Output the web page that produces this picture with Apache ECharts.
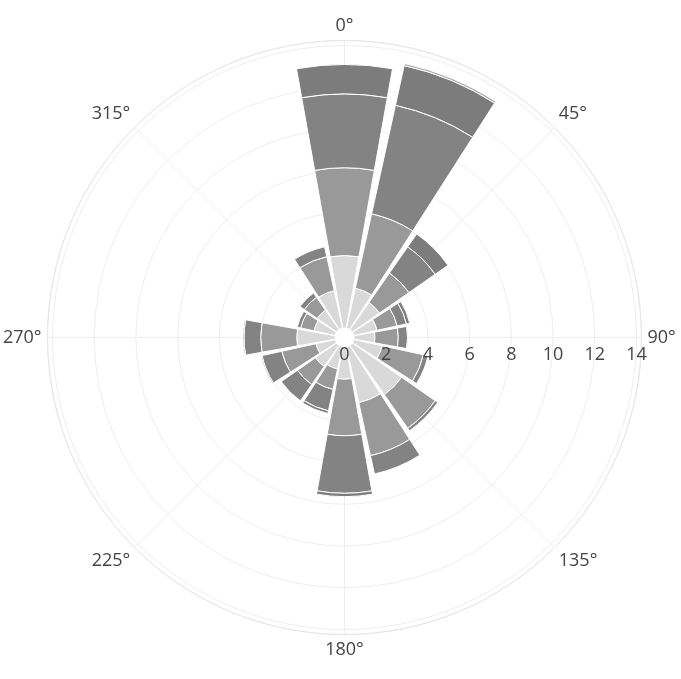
<!DOCTYPE html>
<html>
<head>
<meta charset="utf-8">
<script src="https://cdn.jsdelivr.net/npm/echarts@6/dist/echarts.min.js"></script>
<style>html,body{margin:0;padding:0;background:#fff;}#c{width:681px;height:679px;}</style>
</head>
<body>
<div id="c"></div>
<script>
var directions = ['N','NNE','NE','ENE','E','ESE','SE','SSE','S','SSW','SW','WSW','W','WNW','NW','NNW'];
var band1 = [3.93, 2.42, 2.05, 1.60, 1.46, 1.85, 3.34, 3.20, 2.00, 1.55, 1.70, 1.40, 2.29, 1.50, 1.60, 2.30];
var band2 = [4.21, 3.65, 1.72, 0.98, 1.12, 2.02, 1.96, 2.60, 2.71, 1.00, 1.05, 1.68, 1.73, 0.65, 0.75, 1.67];
var band3 = [3.54, 5.33, 1.53, 0.46, 0.44, 0.23, 0.15, 0.90, 2.76, 1.05, 0.95, 0.97, 0.80, 0.17, 0.25, 0.48];
var band4 = [1.41, 1.95, 0.75, 0.16, 0.00, 0.00, 0.00, 0.00, 0.16, 0.13, 0.00, 0.05, 0.05, 0.00, 0.00, 0.00];
var band5 = [0.00, 0.10, 0.00, 0.00, 0.00, 0.00, 0.00, 0.00, 0.00, 0.00, 0.00, 0.00, 0.00, 0.00, 0.00, 0.00];
var bandNames = ['b1','b2','b3','b4','b5'];
var radialTicks = [0, 2, 4, 6, 8, 10, 12, 14];

var colors = ['#d9d9d9', '#999999', '#838383', '#7c7c7c', '#a8a8a8'];
var bands = [band1, band2, band3, band4, band5];
var RMAX = 14.24;
var CX = 344.5, CY = 337.5, R = 297;

var series = bands.map(function (b, i) {
  return {
    name: bandNames[i],
    type: 'bar',
    coordinateSystem: 'polar',
    polarIndex: 0,
    stack: 'wind',
    barCategoryGap: '10%',
    data: b.map(function (v) { return v === 0 ? '-' : v; }),
    itemStyle: { color: colors[i], borderColor: '#ffffff', borderWidth: 1 },
    emphasis: { disabled: true }
  };
});

var hidden = { axisLine: { show: false }, axisTick: { show: false }, axisLabel: { show: false }, splitLine: { show: false } };

var option = {
  animation: false,
  backgroundColor: '#ffffff',
  textStyle: { fontFamily: 'Open Sans' },
  polar: [
    { center: [CX, CY], radius: R },
    { center: [CX, CY], radius: R },
    { center: [CX, CY], radius: R }
  ],
  angleAxis: [
    Object.assign({
      polarIndex: 0, type: 'category', data: directions,
      startAngle: 90 + 11.25, clockwise: true, boundaryGap: true
    }, hidden),
    {
      polarIndex: 1, type: 'value', min: 90, max: 450, interval: 45,
      startAngle: 0, clockwise: true, z: 0,
      axisLine: { show: true, lineStyle: { color: '#e6e6e6', width: 1 } },
      axisTick: { show: false },
      splitLine: { show: true, lineStyle: { color: '#eeeeee', width: 1 } },
      axisLabel: {
        color: '#444444', fontSize: 18, fontFamily: 'Open Sans', margin: 6,
        formatter: function (v) { return (v % 360) + '°'; }
      }
    },
    Object.assign({
      polarIndex: 2, type: 'value', min: 0, max: 360, startAngle: 0, clockwise: true
    }, hidden)
  ],
  radiusAxis: [
    Object.assign({ polarIndex: 0, type: 'value', min: 0, max: RMAX }, hidden),
    {
      polarIndex: 1, type: 'value', min: 0, max: RMAX, interval: 2, z: 0,
      axisLine: { show: true, lineStyle: { color: '#eeeeee', width: 1 } },
      axisTick: { show: false },
      splitLine: { show: true, lineStyle: { color: '#eeeeee', width: 1 } },
      axisLabel: { show: false }
    },
    {
      polarIndex: 2, type: 'value', min: 0, max: RMAX, interval: 2, z: 20,
      axisLine: { show: false }, axisTick: { show: false }, splitLine: { show: false },
      axisLabel: {
        show: true,
        color: '#444444', fontSize: 18, fontFamily: 'Open Sans', margin: -26,
        showMaxLabel: false,
        formatter: function (v) { return radialTicks.indexOf(v) >= 0 ? String(v) : ''; }
      }
    }
  ],
  series: series,
  graphic: [
    { type: 'circle', shape: { cx: CX, cy: CY, r: 10 }, style: { fill: '#ffffff' }, z: 10, silent: true }
  ]
};

var chart = echarts.init(document.getElementById('c'), null, { renderer: 'canvas' });
chart.setOption(option);
</script>
</body>
</html>
